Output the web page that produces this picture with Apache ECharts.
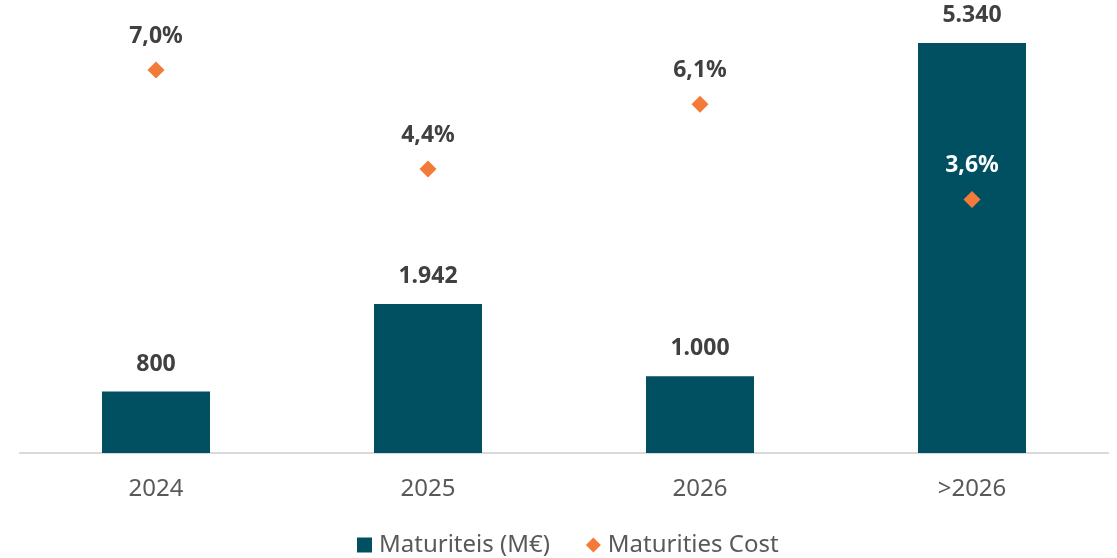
<!DOCTYPE html>
<html>
<head>
<meta charset="utf-8">
<script src="https://cdn.jsdelivr.net/npm/echarts@6/dist/echarts.min.js"></script>
<style>html,body{margin:0;padding:0;background:#fff}#c{width:1117px;height:558px}</style>
</head>
<body>
<div id="c"></div>
<script>
const categories = ['2024', '2025', '2026', '>2026'];
const maturities = [800, 1942, 1000, 5340];
const costs = [7.0, 4.4, 6.1, 3.6];
const costLabelColors = ['#404040', '#404040', '#404040', '#ffffff'];

const fmtThousands = v => String(v).replace(/\B(?=(\d{3})+(?!\d))/g, '.');
const fmtPct = v => v.toFixed(1).replace('.', ',') + '%';
const FONT = '"Noto Sans", sans-serif';

const chart = echarts.init(document.getElementById('c'));
chart.setOption({
  animation: false,
  textStyle: { fontFamily: FONT },
  grid: { left: 20, right: 9, top: 0, bottom: 105 },
  legend: {
    top: 528,
    left: 352,
    itemGap: 36,
    itemWidth: 15,
    itemHeight: 15,
    itemStyle: { borderWidth: 0 },
    textStyle: { fontSize: 24, color: '#595959', fontFamily: FONT, padding: [0, 0, 0, 2] },
    data: [
      { name: 'Maturiteis (M€)', icon: 'rect' },
      { name: 'Maturities Cost', icon: 'diamond' }
    ]
  },
  xAxis: {
    type: 'category',
    data: categories,
    axisLine: { lineStyle: { color: '#d9d9d9', width: 2 } },
    axisTick: { show: false },
    axisLabel: { fontSize: 24, color: '#595959', margin: 24 }
  },
  yAxis: [
    { type: 'value', min: 0, max: 5900, show: false, splitLine: { show: false } },
    { type: 'value', min: -3.06, max: 8.84, show: false, splitLine: { show: false } }
  ],
  series: [
    {
      name: 'Maturiteis (M€)',
      type: 'bar',
      data: maturities,
      barWidth: 108,
      itemStyle: { color: '#005061' },
      label: {
        show: true, position: 'top', distance: 16,
        fontSize: 23, fontWeight: 'bold', color: '#404040',
        formatter: p => fmtThousands(p.value)
      }
    },
    {
      name: 'Maturities Cost',
      type: 'line',
      yAxisIndex: 1,
      data: costs.map((v, i) => ({ value: v, label: { color: costLabelColors[i] } })),
      symbol: 'diamond',
      symbolSize: 17,
      lineStyle: { width: 0, opacity: 0 },
      itemStyle: { color: '#F47A3A' },
      z: 5,
      label: {
        show: true, position: 'top', distance: 14,
        fontSize: 23, fontWeight: 'bold',
        formatter: p => fmtPct(p.value)
      }
    }
  ]
});
</script>
</body>
</html>
